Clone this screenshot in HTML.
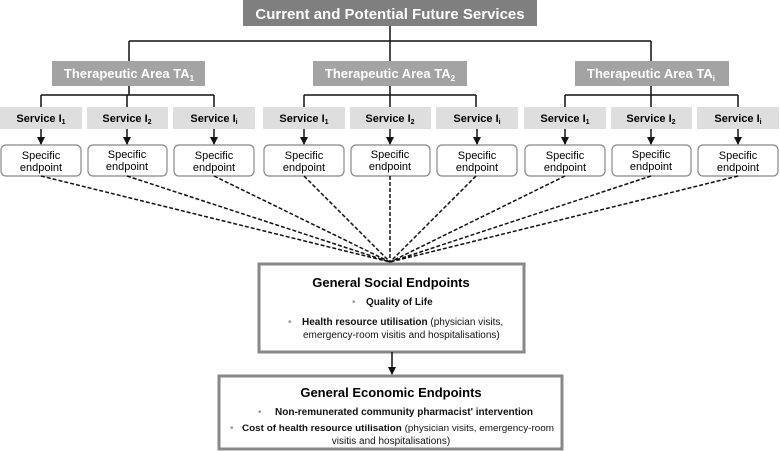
<!DOCTYPE html>
<html><head><style>body{margin:0;background:#fff}svg{display:block;font-family:"Liberation Sans",Arial,sans-serif}</style></head><body>
<svg width="780" height="451" viewBox="0 0 780 451">
<defs><marker id="a" markerWidth="8" markerHeight="8" refX="7" refY="4" orient="auto" markerUnits="userSpaceOnUse"><path d="M0,0L8,4L0,8z" fill="#111"/></marker></defs>
<rect x="243" y="0" width="294" height="26" fill="#7f7f7f"/>
<text x="390" y="19" text-anchor="middle" fill="#fff" font-weight="bold" font-size="15">Current and Potential Future Services</text>
<g stroke="#111" stroke-width="1.5" fill="none">
<path d="M390 26V41M129 41H651M129 41V61M390 41V61M651 41V61"/>
<path d="M129 86V95M41 95H214M41 95V107M127 95V107M214 95V107"/>
<path d="M390 86V95M304 95H476M304 95V107M390 95V107M476 95V107"/>
<path d="M651 86V95M565 95H738M565 95V107M651 95V107M738 95V107"/>
</g>
<g fill="#a3a3a3"><rect x="52" y="61" width="153" height="25"/><rect x="313" y="61" width="154" height="25"/><rect x="575" y="61" width="154" height="25"/></g>
<g fill="#fff" font-weight="bold" font-size="13" text-anchor="middle">
<text x="129" y="78">Therapeutic Area TA<tspan font-size="8" dy="3">1</tspan></text>
<text x="390" y="78">Therapeutic Area TA<tspan font-size="8" dy="3">2</tspan></text>
<text x="651" y="78">Therapeutic Area TA<tspan font-size="8" dy="3">i</tspan></text>
</g>
<g font-size="11" text-anchor="middle">
<g id="s1">
<rect x="0" y="107" width="82" height="22" fill="#dedede"/><rect x="87" y="107" width="81" height="22" fill="#dedede"/><rect x="173" y="107" width="82" height="22" fill="#dedede"/>
<text x="41" y="122" font-weight="bold">Service I<tspan font-size="7" dy="2">1</tspan></text>
<text x="127" y="122" font-weight="bold">Service I<tspan font-size="7" dy="2">2</tspan></text>
<text x="214" y="122" font-weight="bold">Service I<tspan font-size="7" dy="2">i</tspan></text>
<g fill="#fff" stroke="#888" stroke-width="1.2"><rect x="1" y="145" width="80" height="31" rx="5"/><rect x="88" y="145" width="79" height="31" rx="5"/><rect x="174" y="145" width="80" height="31" rx="5"/></g>
<text x="41" y="159">Specific</text><text x="41" y="171">endpoint</text>
<text x="127" y="158">Specific</text><text x="127" y="170">endpoint</text>
<text x="214" y="159">Specific</text><text x="214" y="171">endpoint</text>
<g stroke="#111" stroke-width="1.5" marker-end="url(#a)"><path d="M41 129V144"/><path d="M127 129V144"/><path d="M214 129V144"/></g>
</g>
<use href="#s1" x="263"/>
<use href="#s1" x="524"/>
</g>
<g stroke="#111" stroke-width="1.5" stroke-dasharray="4,2">
<path d="M41 176L390 262M127 176L390 262M214 176L390 262M304 176L390 262M390 176L390 262M476 176L390 262M565 176L390 262M651 176L390 262M738 176L390 262"/>
</g>
<rect x="259" y="264" width="265" height="88" fill="#fff" stroke="#888" stroke-width="3"/>
<text x="391" y="287" text-anchor="middle" font-weight="bold" font-size="13">General Social Endpoints</text>
<g font-size="10" fill="#111">
<text x="352" y="305" fill="#999">•</text><text x="366" y="305" font-weight="bold">Quality of Life</text>
<text x="288" y="325" fill="#999">•</text><text x="302" y="325"><tspan font-weight="bold">Health resource utilisation</tspan> (physician visits,</text>
<text x="303" y="338">emergency-room visitis and hospitalisations)</text>
</g>
<path d="M392 352V374" stroke="#111" stroke-width="1.5" marker-end="url(#a)"/>
<rect x="219" y="376" width="343" height="73" fill="#fff" stroke="#888" stroke-width="3"/>
<text x="391" y="397" text-anchor="middle" font-weight="bold" font-size="13">General Economic Endpoints</text>
<g font-size="10" fill="#111">
<text x="258" y="415" fill="#999">•</text><text x="275" y="415" font-weight="bold">Non-remunerated community pharmacist' intervention</text>
<text x="230" y="431" fill="#999">•</text><text x="242" y="431" font-size="9.6" textLength="312" lengthAdjust="spacingAndGlyphs"><tspan font-weight="bold">Cost of health resource utilisation</tspan> (physician visits, emergency-room</text>
<text x="391" y="444" text-anchor="middle">visitis and hospitalisations)</text>
</g>
</svg>
</body></html>
